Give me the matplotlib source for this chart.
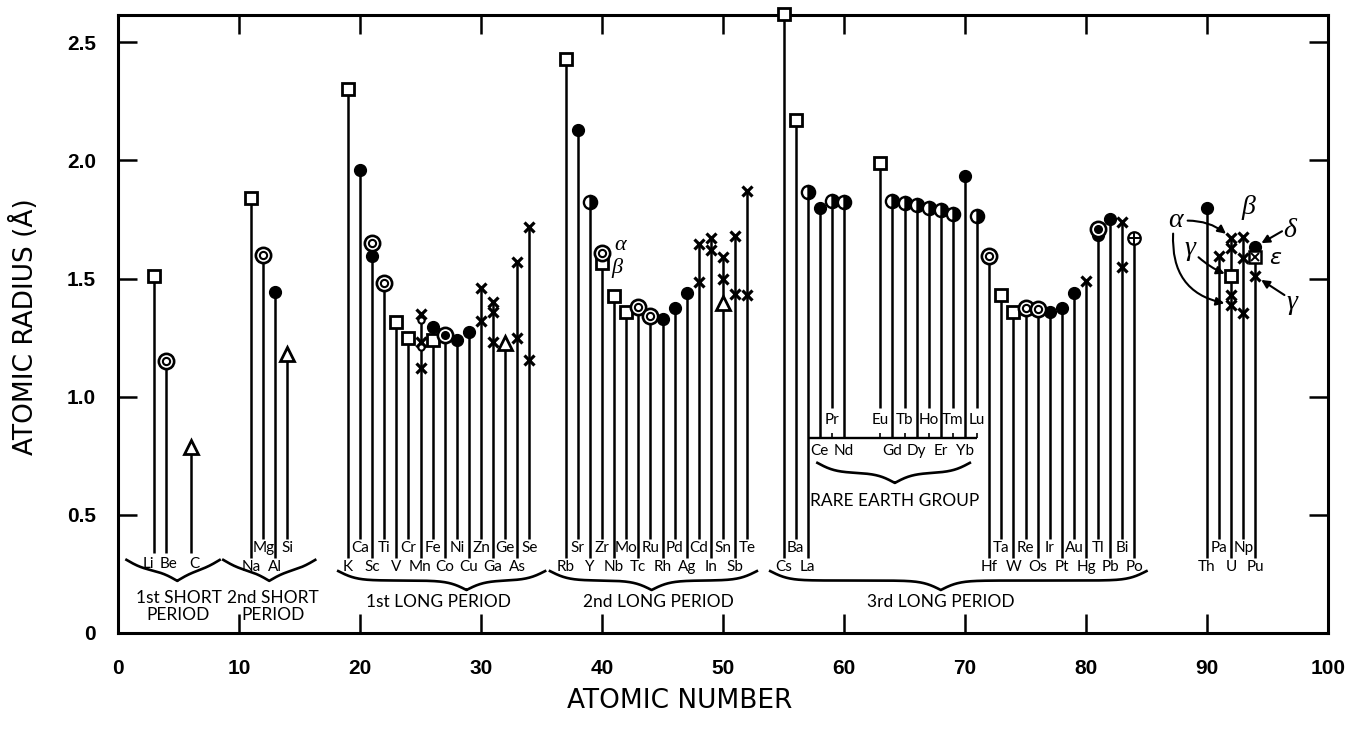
import numpy as np
import matplotlib
matplotlib.use("Agg")
import matplotlib.pyplot as plt

plt.rcParams['font.family'] = ['Lato', 'DejaVu Sans']

# ---------------- data ----------------
SYMBOLS = ["Li", "Be", "C", "Na", "Mg", "Al", "Si",
           "K", "Ca", "Sc", "Ti", "V", "Cr", "Mn", "Fe", "Co", "Ni", "Cu", "Zn", "Ga", "Ge", "As", "Se",
           "Rb", "Sr", "Y", "Zr", "Nb", "Mo", "Tc", "Ru", "Rh", "Pd", "Ag", "Cd", "In", "Sn", "Sb", "Te",
           "Cs", "Ba", "La",
           "Ce", "Pr", "Nd", "Eu", "Gd", "Tb", "Dy", "Ho", "Er", "Tm", "Yb", "Lu",
           "Hf", "Ta", "W", "Re", "Os", "Ir", "Pt", "Au", "Hg", "Tl", "Pb", "Bi", "Po",
           "Th", "Pa", "U", "Np", "Pu"]
ATOMIC_NUMBER = [3, 4, 6, 11, 12, 13, 14,
                 19, 20, 21, 22, 23, 24, 25, 26, 27, 28, 29, 30, 31, 32, 33, 34,
                 37, 38, 39, 40, 41, 42, 43, 44, 45, 46, 47, 48, 49, 50, 51, 52,
                 55, 56, 57,
                 58, 59, 60, 63, 64, 65, 66, 67, 68, 69, 70, 71,
                 72, 73, 74, 75, 76, 77, 78, 79, 80, 81, 82, 83, 84,
                 90, 91, 92, 93, 94]
LABEL_ROW = (["S", "S", "S"] + ["L", "U", "L", "U"] + ["L", "U"] * 8 + ["L", "U"] * 8 +
             ["L", "U", "L"] + ["RL", "RU"] * 6 +
             ["L", "U"] * 6 + ["L"] + ["L", "U", "L", "U", "L"])
LABEL_SHIFT = {"Li": -0.45, "Be": 0.15, "C": 0.35}

# marker families: atomic number / radius (Angstrom)
SQUARE_Z = [3, 11, 19, 23, 24, 26, 37, 40, 41, 42, 55, 56, 63, 73, 74, 92]
SQUARE_R = [1.51, 1.84, 2.30, 1.315, 1.25, 1.24, 2.43, 1.565, 1.425, 1.36, 2.62, 2.17, 1.99, 1.43, 1.36, 1.51]
DOT_Z = [13, 20, 21, 26, 28, 29, 38, 45, 46, 47, 58, 70, 77, 78, 79, 81, 82, 90, 94]
DOT_R = [1.445, 1.96, 1.595, 1.295, 1.24, 1.275, 2.13, 1.33, 1.375, 1.44, 1.80, 1.935, 1.36, 1.375, 1.44,
         1.685, 1.75, 1.80, 1.635]
RING_Z = [4, 12, 21, 22, 40, 43, 44, 72, 75, 76]
RING_R = [1.15, 1.60, 1.65, 1.48, 1.61, 1.38, 1.34, 1.595, 1.375, 1.37]
RING_DOT_Z = [27, 81]
RING_DOT_R = [1.26, 1.71]
HALF_Z = [39, 57, 59, 60, 64, 65, 66, 67, 68, 69, 71]
HALF_R = [1.825, 1.865, 1.83, 1.825, 1.83, 1.82, 1.81, 1.80, 1.79, 1.775, 1.765]
TRI_Z = [6, 14, 32, 50]
TRI_R = [0.785, 1.18, 1.225, 1.395]
CROSS_Z = [25, 25, 25, 30, 30, 31, 31, 31, 33, 33, 34, 34, 48, 48, 49, 49, 50, 50, 51, 51, 52, 52,
           80, 83, 83, 91, 92, 92, 92, 92, 93, 93, 93, 94]
CROSS_R = [1.35, 1.23, 1.12, 1.46, 1.32, 1.40, 1.36, 1.23, 1.57, 1.25, 1.72, 1.155, 1.645, 1.485,
           1.67, 1.62, 1.59, 1.50, 1.68, 1.435, 1.87, 1.43,
           1.49, 1.74, 1.55, 1.595, 1.67, 1.63, 1.43, 1.39, 1.675, 1.585, 1.355, 1.51]
SMALL_Z = [25, 25]
SMALL_R = [1.325, 1.21]
CPLUS_Z = [84]
CPLUS_R = [1.67]
XSQ_Z = [94]
XSQ_R = [1.59]

GROUP_TEXT = ["1st SHORT\nPERIOD", "2nd SHORT\nPERIOD", "1st LONG PERIOD", "2nd LONG PERIOD", "3rd LONG PERIOD"]
GROUP_START = [0.7, 8.7, 18.2, 35.7, 53.9]
GROUP_TIP = [4.9, 12.5, 28.8, 44.1, 68.0]
GROUP_END = [8.4, 16.3, 35.3, 52.8, 85.0]
GROUP_TEXT_Z = [5.0, 12.8, 26.5, 44.7, 68.0]

RE_TEXT = "RARE EARTH GROUP"
RE_START, RE_TIP, RE_END = 57.8, 64.2, 70.4
RE_LINE = (57.0, 71.0)

X_TICKS = list(range(0, 101, 10))
Y_TICKS = [0, 0.5, 1.0, 1.5, 2.0, 2.5]
Y_TICK_LABELS = ["0", "0.5", "1.0", "1.5", "2.0", "2.5"]

# ---------------- figure ----------------
W, H = 1367, 752
fig = plt.figure(figsize=(W / 100, H / 100), dpi=100)
ax = fig.add_axes([118 / W, (H - 633) / H, 1210 / W, 618 / H])
ax.set_xlim(0, 100)
ax.set_ylim(0, 2.615)

ROW_STEM_END = {"S": 0.34, "L": 0.318, "U": 0.397, "RL": 0.825, "RU": 0.95}
ROW_LABEL_Y = {"S": 0.29, "L": 0.281, "U": 0.359, "RL": 0.772, "RU": 0.903}

# stem tops = highest plotted value for each element
all_z = SQUARE_Z + DOT_Z + RING_Z + RING_DOT_Z + HALF_Z + TRI_Z + CROSS_Z + SMALL_Z + CPLUS_Z + XSQ_Z
all_r = SQUARE_R + DOT_R + RING_R + RING_DOT_R + HALF_R + TRI_R + CROSS_R + SMALL_R + CPLUS_R + XSQ_R
top = {}
for z, r in zip(all_z, all_r):
    top[z] = max(top.get(z, 0), r)

lw = 1.8
for sym, z, row in zip(SYMBOLS, ATOMIC_NUMBER, LABEL_ROW):
    ax.vlines(z, ROW_STEM_END[row], top[z], color="k", lw=lw, zorder=2)
    ax.text(z + LABEL_SHIFT.get(sym, 0), ROW_LABEL_Y[row], sym, ha="center", va="center",
            fontsize=11, zorder=4)

mk = dict(linestyle="none", clip_on=False, zorder=6)
ax.plot(SQUARE_Z, SQUARE_R, marker="s", ms=8, mfc="white", mec="k", mew=2, **mk)
ax.plot(DOT_Z, DOT_R, marker="o", ms=8.5, mfc="k", mec="k", **mk)
ax.plot(RING_Z, RING_R, marker="o", ms=11, mfc="white", mec="k", mew=1.9, **mk)
ax.plot(RING_Z, RING_R, marker="o", ms=5.2, mfc="white", mec="k", mew=1.5, linestyle="none", clip_on=False, zorder=7)
ax.plot(RING_DOT_Z, RING_DOT_R, marker="o", ms=11, mfc="white", mec="k", mew=1.9, **mk)
ax.plot(RING_DOT_Z, RING_DOT_R, marker="o", ms=5.5, mfc="k", mec="k", linestyle="none", clip_on=False, zorder=7)
ax.plot(HALF_Z, HALF_R, marker="o", ms=9.5, fillstyle="right", mfc="k", mfcalt="white", mec="k", mew=1.7, **mk)
ax.plot(TRI_Z, TRI_R, marker="^", ms=9.5, mfc="white", mec="k", mew=2, **mk)
ax.plot(CROSS_Z, CROSS_R, marker="x", ms=7, mec="k", mew=2.3, **mk)
ax.plot(SMALL_Z, SMALL_R, marker="o", ms=4.5, mfc="white", mec="k", mew=1.5, **mk)
ax.plot(CPLUS_Z, CPLUS_R, marker="o", ms=9, mfc="white", mec="k", mew=1.6, **mk)
ax.plot(CPLUS_Z, CPLUS_R, marker="+", ms=8.5, mec="k", mew=1.4, linestyle="none", clip_on=False, zorder=7)
ax.plot(XSQ_Z, XSQ_R, marker="s", ms=8, mfc="white", mec="k", mew=1.8, **mk)
ax.plot(XSQ_Z, XSQ_R, marker="x", ms=5.5, mec="k", mew=1.4, linestyle="none", clip_on=False, zorder=7)


def brace(x1, xt, x2, ytop, h, k=1.5):
    xl = np.linspace(x1, xt, 200)
    fl = 1 / (1 + np.exp(-k * (xl - x1))) + 1 / (1 + np.exp(-k * (xl - xt)))
    xr = np.linspace(xt, x2, 200)
    fr = 1 / (1 + np.exp(k * (xr - x2))) + 1 / (1 + np.exp(k * (xr - xt)))
    xs = np.concatenate([xl, xr])
    ys = ytop - (np.concatenate([fl, fr]) - 0.5) * h
    ax.plot(xs, ys, color="k", lw=1.9, zorder=3)


for txt, a, t, b, zc in zip(GROUP_TEXT, GROUP_START, GROUP_TIP, GROUP_END, GROUP_TEXT_Z):
    if "\n" in txt:
        brace(a, t, b, 0.31, 0.09, k=1.3)
        ax.text(zc, 0.113, txt, ha="center", va="center", fontsize=12.5, linespacing=1.05)
    else:
        brace(a, t, b, 0.262, 0.08, k=1.3)
        ax.text(zc, 0.133, txt, ha="center", va="center", fontsize=12.5)

# rare earth group
ax.hlines(0.825, RE_LINE[0], RE_LINE[1], color="k", lw=1.7, zorder=2)
re_up = [z for z, r in zip(ATOMIC_NUMBER, LABEL_ROW) if r == "RU"]
ax.vlines(re_up, 0.825, 0.845, color="k", lw=1.2)
brace(RE_START, RE_TIP, RE_END, 0.72, 0.085, k=1.3)
ax.text(RE_TIP, 0.56, RE_TEXT, ha="center", va="center", fontsize=12.5)

# greek annotations
gk = dict(family=["Liberation Serif", "DejaVu Serif"], style="italic", color="k")
ax.text(41.0, 1.64, "α", fontsize=16, ha="left", va="center", **gk)
ax.text(40.8, 1.545, "β", fontsize=16, ha="left", va="center", **gk)

ax.text(87.4, 1.745, "α", fontsize=20, ha="center", va="center", **gk)
ax.text(88.6, 1.625, "γ", fontsize=20, ha="center", va="center", **gk)
ax.text(93.4, 1.80, "β", fontsize=20, ha="center", va="center", **gk)
ax.text(96.8, 1.705, "δ", fontsize=20, ha="center", va="center", **gk)
ax.text(95.7, 1.585, r"$\epsilon$", fontsize=16, ha="center", va="center")
ax.text(97.0, 1.40, "γ", fontsize=20, ha="center", va="center", **gk)

ap = dict(arrowstyle="-|>", color="k", lw=1.5, mutation_scale=12, shrinkA=0, shrinkB=5)
ax.annotate("", xy=(92, 1.67), xytext=(88.4, 1.745), arrowprops=dict(ap, connectionstyle="arc3,rad=-0.2"))
ax.annotate("", xy=(92, 1.39), xytext=(87.2, 1.69), arrowprops=dict(ap, connectionstyle="arc3,rad=0.45"))
ax.annotate("", xy=(92, 1.51), xytext=(89.3, 1.59), arrowprops=dict(ap, connectionstyle="arc3,rad=0.1"))
ax.annotate("", xy=(94, 1.635), xytext=(96.2, 1.70), arrowprops=dict(ap, connectionstyle="arc3,rad=0"))
ax.annotate("", xy=(94, 1.51), xytext=(96.4, 1.43), arrowprops=dict(ap, connectionstyle="arc3,rad=0"))

# axes styling
for s in ax.spines.values():
    s.set_linewidth(2.2)
ax.set_xticks(X_TICKS)
ax.set_xticklabels([str(v) for v in X_TICKS])
ax.set_yticks(Y_TICKS)
ax.set_yticklabels(Y_TICK_LABELS)
ax.tick_params(direction="in", length=14, width=1.8, top=True, right=True)
ax.tick_params(axis="x", pad=19)
ax.tick_params(axis="y", pad=16)
for lbl in ax.get_xticklabels() + ax.get_yticklabels():
    lbl.set_fontfamily(["Liberation Sans", "DejaVu Sans"])
    lbl.set_fontweight("bold")
    lbl.set_fontsize(15)

fig.text(0.018, 0.565, "ATOMIC RADIUS (Å)", rotation=90, ha="center", va="center",
         fontsize=19, family=["DejaVu Sans"])
fig.text(0.497, 0.068, "ATOMIC NUMBER", ha="center", va="center",
         fontsize=19, family=["DejaVu Sans"])

fig.savefig("out.png", dpi=100)
